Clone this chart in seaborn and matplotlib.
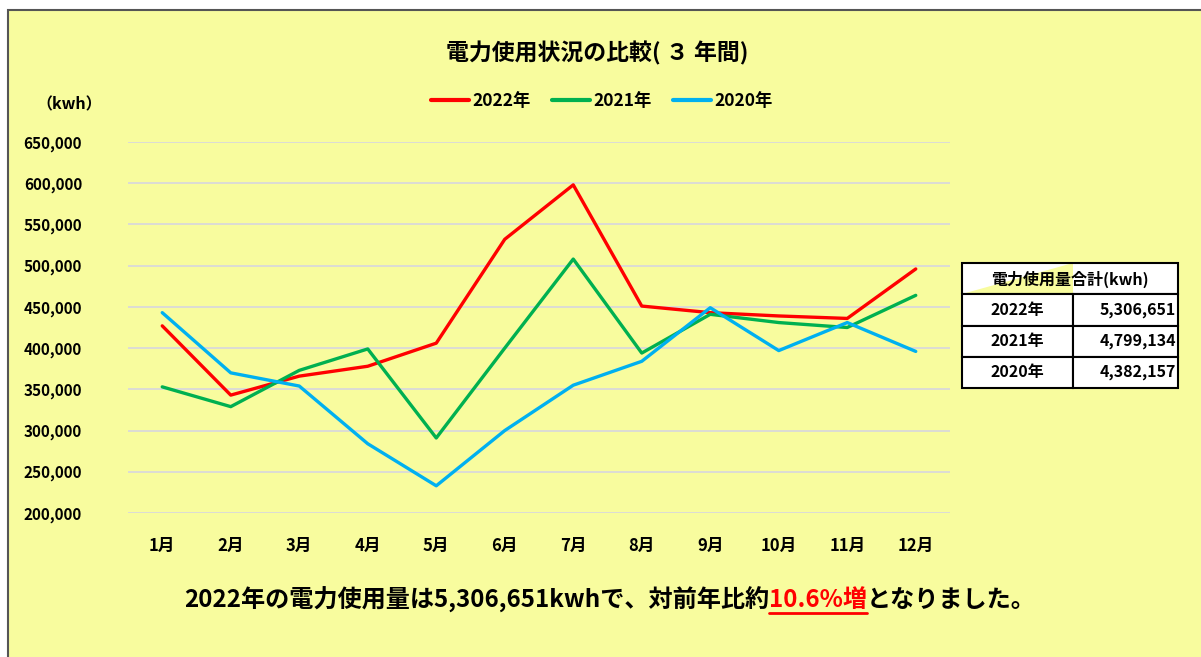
import matplotlib
matplotlib.use("Agg")
import matplotlib.pyplot as plt
import seaborn as sns
import pandas as pd
from matplotlib.patches import Rectangle
from matplotlib.lines import Line2D

# データ (kwh)
months = ["1月", "2月", "3月", "4月", "5月", "6月", "7月", "8月", "9月", "10月", "11月", "12月"]
y2022 = [427000, 343000, 366000, 378000, 406000, 532000, 598000, 451000, 443000, 439000, 436000, 496000]
y2021 = [353000, 329000, 373000, 399000, 291000, 400000, 508000, 394000, 441000, 431000, 425000, 464000]
y2020 = [443000, 370000, 354000, 284000, 233000, 300000, 355000, 384000, 449000, 397000, 431000, 396000]
years = ["2022年", "2021年", "2020年"]
totals = ["5,306,651", "4,799,134", "4,382,157"]
colors = ["#FF0000", "#00B050", "#00B0F0"]

sns.set_style("white")
plt.rcParams["font.family"] = ["Noto Sans CJK JP", "DejaVu Sans"]
plt.rcParams["font.weight"] = "bold"
plt.rcParams["text.color"] = "black"
plt.rcParams["xtick.color"] = "black"
plt.rcParams["ytick.color"] = "black"

bg = "#F8FC9E"
df = pd.DataFrame({
    "月": list(range(12)) * 3,
    "kwh": y2022 + y2021 + y2020,
    "年": [y for y in years for _ in range(12)],
})

fig = plt.figure(figsize=(12.01, 6.57), dpi=100, facecolor="white")
fig.patches.append(Rectangle((8 / 1201, -0.05), 1.1, 1 - 10 / 657 + 0.05,
                             transform=fig.transFigure, facecolor=bg,
                             edgecolor="#555555", linewidth=1.5, zorder=-10))

ax = fig.add_axes([128 / 1201, 1 - 513 / 657, 822 / 1201, 371 / 657])
ax.set_facecolor("none")
ax.set_zorder(5)
sns.lineplot(data=df, x="月", y="kwh", hue="年", hue_order=years,
             palette=colors, linewidth=2.4, ax=ax, legend=False, sort=False)

ax.set_xlim(-0.5, 11.5)
ax.set_ylim(200000, 650000)
ax.set_yticks(range(200000, 650001, 50000))
ax.set_yticklabels([f"{v:,}" for v in range(200000, 650001, 50000)], fontsize=11, fontweight="bold")
ax.set_xticks(range(12))
ax.set_xticklabels(months, fontsize=12, fontweight="bold")
ax.tick_params(axis="y", length=0, pad=33)
ax.tick_params(axis="x", length=0, pad=17)
ax.grid(axis="y", color="#D9D9D9", linewidth=1.3)
ax.set_axisbelow(True)
for s in ax.spines.values():
    s.set_visible(False)
ax.set_xlabel("")
ax.set_ylabel("")

fig.text(597 / 1201, 1 - 53 / 657, "電力使用状況の比較( ３ 年間)", ha="center", va="center",
         fontsize=16.5, fontweight="bold")
fig.text(36 / 1201, 1 - 104 / 657, "（kwh）", ha="left", va="center", fontsize=11.5, fontweight="bold")

handles = [Line2D([0], [0], color=c, linewidth=3) for c in colors]
fig.legend(handles, years, loc="center", bbox_to_anchor=(602 / 1201, 1 - 101 / 657), ncol=3,
           frameon=False, handlelength=2.2, handletextpad=0.2, columnspacing=1.2,
           prop={"size": 12.5, "weight": "bold"})

# 合計テーブル
tab = ax.table(cellText=[["", ""]] + [[y, t] for y, t in zip(years, totals)],
               bbox=[(962 - 128) / 822, (513 - 388) / 371, 216 / 822, 125 / 371],
               colWidths=[111, 105], cellLoc="center")
tab.auto_set_font_size(False)
for (r, c), cell in tab.get_celld().items():
    cell.set_facecolor("white")
    cell.set_edgecolor("black")
    cell.set_linewidth(1.5)
    cell.get_text().set_fontsize(11.5)
    cell.get_text().set_fontweight("bold")
    cell.get_text().set_color("black")
    if r > 0 and c == 1:
        cell.get_text().set_horizontalalignment("right")
        cell.PAD = 0.02
tab[0, 0].visible_edges = "BTL"
tab[0, 1].visible_edges = "BTR"
fig.text((962 + 108) / 1201, 1 - 279 / 657, "電力使用量合計(kwh)", ha="center", va="center",
         fontsize=11.5, fontweight="bold", zorder=10)

# 下部コメント
parts = [("2022年の電力使用量は5,306,651kwhで、対前年比約", "black"),
         ("10.6%増", "#FF0000"),
         ("となりました。", "black")]
ytxt = 1 - 600 / 657
texts = [fig.text(0, ytxt, p, color=c, fontsize=17.4, fontweight="bold", ha="left", va="center")
         for p, c in parts]
renderer = fig.canvas.get_renderer()
widths = [t.get_window_extent(renderer).width for t in texts]
x = 610 - sum(widths) / 2
for t, w in zip(texts, widths):
    t.set_x(x / 1201)
    if t.get_color() == "#FF0000":
        bb = t.get_window_extent(renderer)
        fig.lines.append(Line2D([x / 1201, (x + w) / 1201], [(bb.y0 - 1) / 657] * 2,
                                transform=fig.transFigure, color="#FF0000", linewidth=2))
    x += w

fig.savefig("out.png", dpi=100, facecolor="white")
